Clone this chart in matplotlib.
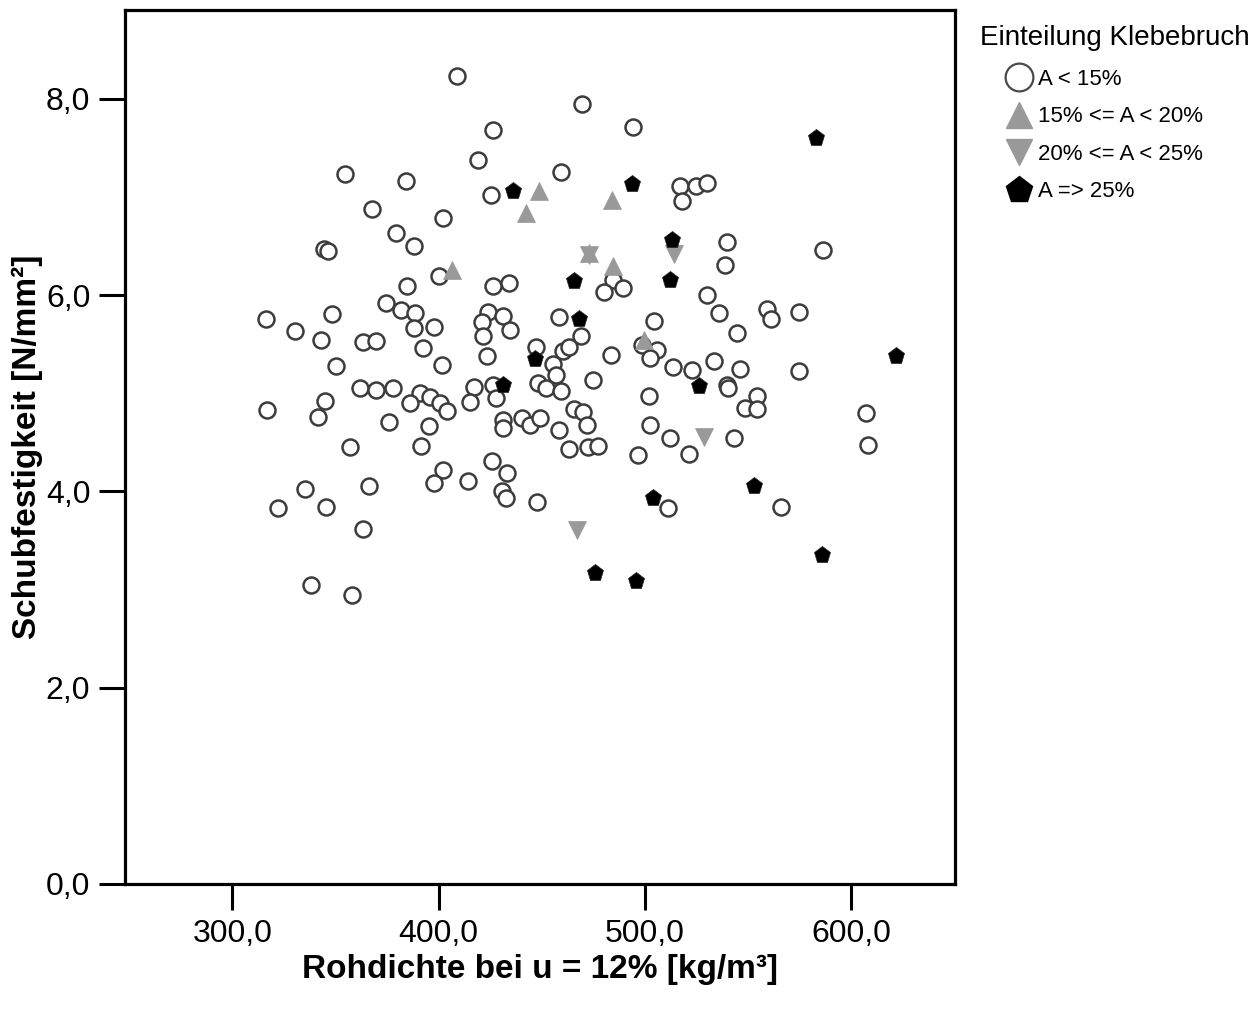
import numpy as np
import matplotlib
matplotlib.use('Agg')
import matplotlib.pyplot as plt
from matplotlib.lines import Line2D

plt.rcParams['font.family'] = ['Liberation Sans', 'DejaVu Sans']

# A < 15%
dichte_a = [316.5, 348.3, 374.5, 381.9, 388.7, 388.2, 397.6, 330.2, 343.1, 363.6,
            369.6, 392.4, 350.3, 401.9, 361.7, 369.9, 377.9, 391.1, 386.3, 396.0,
            400.8, 404.1, 316.8, 345.1, 341.5, 375.8, 395.5, 357.2, 391.5, 402.4,
            397.6, 414.5, 335.4, 366.1, 322.0, 345.6, 363.6, 338.1, 358.0, 409.2,
            419.0, 354.8, 384.3, 367.7, 402.1, 379.5, 387.9, 344.6, 346.5, 400.0,
            384.7, 469.5, 426.6, 494.5, 459.3, 425.4, 517.1, 524.9, 530.1, 518.0,
            426.4, 434.3, 484.8, 489.4, 480.3, 530.2, 539.8, 539.0, 586.3, 424.2,
            421.0, 431.5, 434.7, 421.8, 458.2, 469.0, 504.7, 447.2, 460.6, 463.5,
            423.4, 483.6, 498.6, 505.8, 502.3, 513.6, 522.8, 455.4, 457.0, 448.2,
            452.2, 459.5, 475.1, 417.3, 415.4, 426.6, 428.0, 502.1, 465.9, 470.0,
            471.9, 431.5, 431.5, 440.4, 444.4, 449.3, 458.6, 502.6, 463.5, 472.7,
            477.2, 512.3, 496.9, 521.6, 425.9, 433.4, 430.7, 432.8, 447.7, 511.5,
            536.2, 559.2, 561.3, 574.8, 544.9, 533.6, 546.2, 574.8, 539.8, 540.6,
            554.6, 548.6, 554.6, 607.1, 543.5, 608.4, 566.1]
festigkeit_a = [5.76, 5.81, 5.92, 5.85, 5.82, 5.67, 5.68, 5.64, 5.54, 5.52,
                5.53, 5.46, 5.28, 5.29, 5.05, 5.03, 5.05, 5.00, 4.90, 4.96,
                4.90, 4.82, 4.83, 4.92, 4.76, 4.71, 4.67, 4.45, 4.46, 4.22,
                4.09, 4.11, 4.03, 4.06, 3.83, 3.84, 3.62, 3.05, 2.94, 8.23,
                7.38, 7.24, 7.16, 6.88, 6.79, 6.63, 6.50, 6.47, 6.45, 6.20,
                6.09, 7.95, 7.68, 7.71, 7.26, 7.02, 7.11, 7.11, 7.14, 6.96,
                6.09, 6.12, 6.16, 6.07, 6.03, 6.00, 6.54, 6.31, 6.46, 5.83,
                5.73, 5.79, 5.65, 5.58, 5.78, 5.58, 5.74, 5.47, 5.43, 5.47,
                5.38, 5.39, 5.49, 5.44, 5.36, 5.27, 5.24, 5.30, 5.19, 5.11,
                5.05, 5.02, 5.14, 5.06, 4.91, 5.09, 4.95, 4.97, 4.84, 4.81,
                4.68, 4.73, 4.65, 4.75, 4.68, 4.75, 4.63, 4.68, 4.43, 4.45,
                4.46, 4.54, 4.37, 4.38, 4.31, 4.19, 4.00, 3.93, 3.89, 3.83,
                5.82, 5.86, 5.76, 5.83, 5.62, 5.33, 5.25, 5.23, 5.09, 5.05,
                4.97, 4.85, 4.84, 4.80, 4.54, 4.47, 3.84]

# 15% <= A < 20%
dichte_b = [448.9, 442.4, 484.3, 406.5, 484.5, 499.4, 473.0]
festigkeit_b = [7.06, 6.84, 6.97, 6.26, 6.30, 5.54, 6.43]

# 20% <= A < 25%
dichte_c = [514.2, 528.8, 467.1, 473.0]
festigkeit_c = [6.42, 4.56, 3.61, 6.41]

# A => 25%
dichte_d = [436.3, 494.0, 583.2, 513.1, 465.8, 512.3, 468.3, 446.9, 431.5, 526.5,
            621.8, 504.2, 553.0, 475.9, 495.7, 585.8]
festigkeit_d = [7.06, 7.13, 7.60, 6.56, 6.15, 6.16, 5.76, 5.35, 5.09, 5.08,
                5.38, 3.93, 4.06, 3.17, 3.09, 3.35]

gruppen = ['A < 15%', '15% <= A < 20%', '20% <= A < 25%', 'A => 25%']

x_ticks = [300, 400, 500, 600]
x_labels = ['300,0', '400,0', '500,0', '600,0']
y_ticks = [0, 2, 4, 6, 8]
y_labels = ['0,0', '2,0', '4,0', '6,0', '8,0']

fig = plt.figure(figsize=(12.59, 10.10), dpi=100)
ax = fig.add_axes([0.0993, 0.1248, 0.6592, 0.8653])

ax.plot(dichte_a, festigkeit_a, 'o', ms=11.5, mfc='white', mec='#3c3c3c', mew=1.8, zorder=2)
ax.plot(dichte_b, festigkeit_b, '^', ms=12.5, mfc='#999999', mec='#999999', mew=0.5, zorder=3)
ax.plot(dichte_c, festigkeit_c, 'v', ms=12.5, mfc='#999999', mec='#999999', mew=0.5, zorder=3)
ax.plot(dichte_d, festigkeit_d, 'p', ms=12.5, mfc='black', mec='#222222', mew=0.5, zorder=4)

ax.set_xlim(248, 650.4)
ax.set_ylim(0, 8.907)
ax.set_xticks(x_ticks)
ax.set_xticklabels(x_labels)
ax.set_yticks(y_ticks)
ax.set_yticklabels(y_labels)
ax.tick_params(axis='both', direction='out', length=19, width=2.2, labelsize=23, pad=6)
for s in ax.spines.values():
    s.set_linewidth(2.3)

ax.set_xlabel('Rohdichte bei u = 12% [kg/m³]', fontsize=24, fontweight='bold', labelpad=4)
ax.set_ylabel('Schubfestigkeit [N/mm²]', fontsize=24, fontweight='bold', labelpad=2)

fig.text(980 / 1259, 1 - 38 / 1010, 'Einteilung Klebebruch', fontsize=20,
         ha='left', va='center')

handles = [
    Line2D([], [], ls='', marker='o', ms=20, mfc='white', mec='#4a4a4a', mew=1.6),
    Line2D([], [], ls='', marker='^', ms=19, mfc='#999999', mec='#999999'),
    Line2D([], [], ls='', marker='v', ms=19, mfc='#999999', mec='#999999'),
    Line2D([], [], ls='', marker='p', ms=20, mfc='black', mec='black'),
]
fig.legend(handles, gruppen, loc='upper left', bbox_to_anchor=(1006 / 1259, 1 - 69 / 1010),
           frameon=False, fontsize=16, handlelength=1.2, handletextpad=0.25,
           labelspacing=0.74, borderaxespad=0, borderpad=0)

fig.savefig('out.png', dpi=100)
